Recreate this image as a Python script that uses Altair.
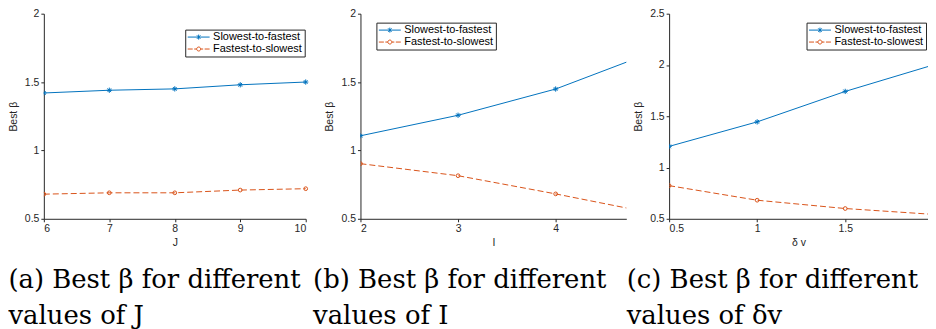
import altair as alt
import pandas as pd

SERIES = ["Slowest-to-fastest", "Fastest-to-slowest"]
COLORS = ["#0072BD", "#D95319"]

J_VALUES = [6, 7, 8, 9, 10]
J_SLOW = [1.42, 1.44, 1.45, 1.48, 1.50]
J_FAST = [0.68, 0.69, 0.69, 0.71, 0.72]

I_VALUES = [2, 3, 4, 5]
I_SLOW = [1.107, 1.257, 1.449, 1.72]
I_FAST = [0.903, 0.815, 0.682, 0.54]

DV_VALUES = [0.5, 1.0, 1.5, 2.0]
DV_SLOW = [1.206, 1.445, 1.742, 2.0]
DV_FAST = [0.823, 0.681, 0.600, 0.543]

CAPTIONS = [
    ["(a) Best β for different", "values of J"],
    ["(b) Best β for different", "values of I"],
    ["(c) Best β for different", "values of δv"],
]

ASTER = "M-1,0L1,0M0,-1L0,1M-0.7,-0.7L0.7,0.7M-0.7,0.7L0.7,-0.7"
LEG_S = ("M-1,0L3.4,0M1.2,-0.5L1.2,0.5"
         "M0.85,-0.35L1.55,0.35M0.85,0.35L1.55,-0.35")
LEG_F = ("M-1,0L0,0M0.3,0L0.8,0M1.6,0L2.1,0M2.4,0L3.4,0"
         "M1.6,0A0.4,0.4 0 1,1 0.8,0A0.4,0.4 0 1,1 1.6,0")


def panel(xs, slow, fast, xdomain, xticks, ydomain, yticks, xtitle,
          caption, leg_xy, width, xrange, dx):
    n = len(xs)
    df = pd.DataFrame({
        "x": list(xs) * 2,
        "y": list(slow) + list(fast),
        "series": [SERIES[0]] * n + [SERIES[1]] * n,
    })
    base = alt.Chart(df).encode(
        x=alt.X("x:Q",
                scale=alt.Scale(domain=xdomain, range=[0, xrange],
                                nice=False, zero=False),
                axis=alt.Axis(values=xticks, title=xtitle, format=".2~f")),
        y=alt.Y("y:Q",
                scale=alt.Scale(domain=ydomain, nice=False, zero=False),
                axis=alt.Axis(values=yticks, title="Best β", format=".2~f",
                              titlePadding=6)),
    )
    is_s = alt.datum.series == SERIES[0]
    is_f = alt.datum.series == SERIES[1]
    line_s = base.transform_filter(is_s).mark_line(
        color=COLORS[0], strokeWidth=1, clip=True)
    line_f = base.transform_filter(is_f).mark_line(
        color=COLORS[1], strokeWidth=1, strokeDash=[6, 3], clip=True)
    pts_s = base.transform_filter(is_s).mark_point(
        shape=ASTER, filled=False, color=COLORS[0], size=28,
        strokeWidth=1, opacity=1, clip=True)
    pts_f = base.transform_filter(is_f).mark_point(
        shape="circle", filled=False, color=COLORS[1], size=14,
        strokeWidth=1, opacity=1, clip=True)
    lg = alt.Legend(
        orient="none", legendX=leg_xy[0], legendY=leg_xy[1], title=None,
        labelFont="Liberation Sans", labelFontSize=11, labelColor="#000000",
        symbolSize=100, symbolStrokeWidth=1, symbolOpacity=1,
        symbolFillColor="transparent", strokeColor="#262626",
        fillColor="white", padding=2, rowPadding=0, labelOffset=15,
    )
    leg = base.mark_point(opacity=0, filled=False, clip=True).encode(
        color=alt.Color("series:N",
                        scale=alt.Scale(domain=SERIES, range=COLORS),
                        legend=lg),
        shape=alt.Shape("series:N",
                        scale=alt.Scale(domain=SERIES, range=[LEG_S, LEG_F]),
                        legend=lg),
    )
    return alt.layer(line_s, line_f, pts_s, pts_f, leg).properties(
        width=width, height=206,
        title=alt.Title(caption, orient="bottom", anchor="start",
                        font="DejaVu Serif", fontSize=26,
                        fontWeight="normal", lineHeight=36, offset=20,
                        dx=dx, color="#000000"),
    )


p1 = panel(J_VALUES, J_SLOW, J_FAST, [6, 10], [6, 7, 8, 9, 10],
           [0.5, 2], [0.5, 1, 1.5, 2], "J", CAPTIONS[0], (142, 16),
           275, 263, 0)
p2 = panel(I_VALUES, I_SLOW, I_FAST, [2, 4.724], [2, 3, 4],
           [0.5, 2], [0.5, 1, 1.5, 2], "I", CAPTIONS[1], (16, 9),
           267, 267, -12)
p3 = panel(DV_VALUES, DV_SLOW, DV_FAST, [0.5, 1.97], [0.5, 1, 1.5],
           [0.5, 2.5], [0.5, 1, 1.5, 2, 2.5], "δ v", CAPTIONS[2], (138, 9),
           260, 260, -7)

chart = alt.hconcat(p1, p2, p3, spacing=43, bounds="flush").resolve_scale(
    color="independent", shape="independent", x="independent",
    y="independent")

chart = chart.properties(padding=0).configure_view(stroke=None).configure_axis(
    grid=False, domainColor="#262626", tickColor="#262626",
    labelColor="#262626", titleColor="#262626",
    labelFont="Liberation Sans", titleFont="Liberation Sans",
    labelFontSize=10.5, titleFontSize=10.5, titleFontWeight="normal",
    tickSize=3, labelPadding=2, titlePadding=3, domainWidth=1,
)

chart.save("out.html", embed_options={"renderer": "svg", "actions": False})
